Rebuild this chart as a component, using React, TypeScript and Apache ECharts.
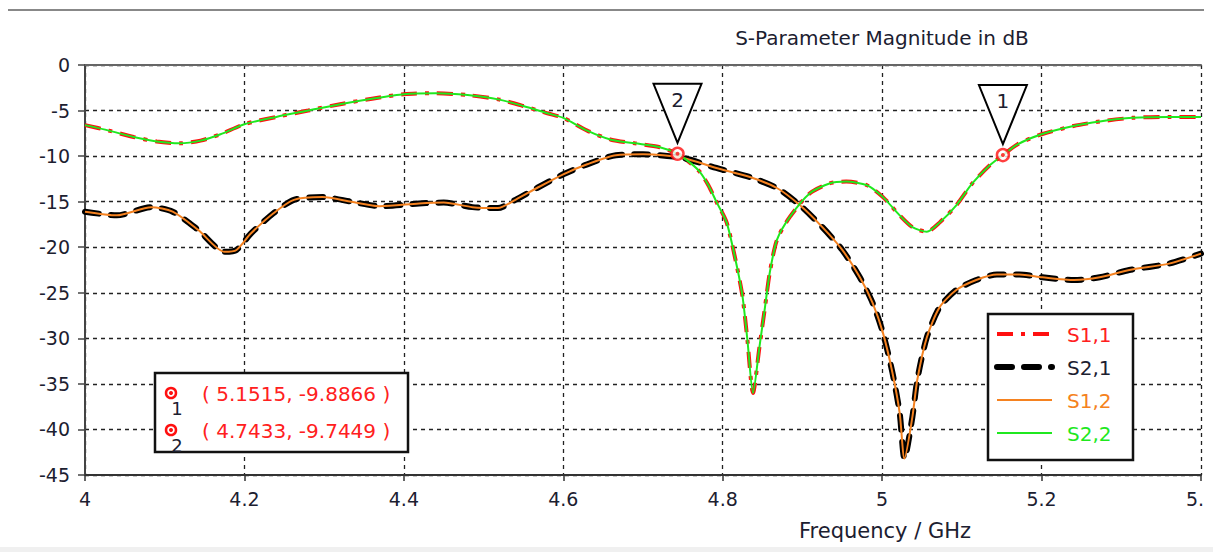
import React, { useEffect, useRef } from "react";
import * as echarts from "echarts";

// Reflection curves (S1,1 and S2,2 coincide)
const freqR = [4.000, 4.030, 4.061, 4.090, 4.119, 4.145, 4.170, 4.200, 4.240, 4.280, 4.320, 4.360, 4.400, 4.440, 4.480, 4.520, 4.550, 4.580, 4.600, 4.630, 4.660, 4.690, 4.720, 4.7433, 4.760, 4.771, 4.782, 4.792, 4.805, 4.818, 4.825, 4.831, 4.838, 4.846, 4.853, 4.859, 4.868, 4.884, 4.909, 4.934, 4.955, 4.981, 5.001, 5.022, 5.038, 5.056, 5.072, 5.093, 5.113, 5.135, 5.1515, 5.170, 5.200, 5.240, 5.273, 5.314, 5.360, 5.400];
const s11 = [-6.6, -7.2, -7.9, -8.4, -8.6, -8.3, -7.6, -6.5, -5.7, -5.0, -4.3, -3.7, -3.2, -3.1, -3.3, -3.8, -4.5, -5.3, -5.8, -7.2, -8.2, -8.6, -9.0, -9.74, -10.8, -11.7, -13.2, -15.0, -17.3, -22.2, -25.5, -30.2, -36.0, -31.0, -26.6, -22.8, -19.2, -16.7, -14.1, -13.0, -12.8, -13.2, -14.5, -16.5, -17.8, -18.3, -17.3, -15.4, -13.0, -11.0, -9.89, -8.7, -7.6, -6.7, -6.2, -5.8, -5.7, -5.7];
const s22 = [-6.6, -7.2, -7.9, -8.4, -8.6, -8.3, -7.6, -6.5, -5.7, -5.0, -4.3, -3.7, -3.2, -3.1, -3.3, -3.8, -4.5, -5.3, -5.8, -7.2, -8.2, -8.6, -9.0, -9.74, -10.8, -11.7, -13.2, -15.0, -17.3, -22.2, -25.5, -30.2, -36.0, -31.0, -26.6, -22.8, -19.2, -16.7, -14.1, -13.0, -12.8, -13.2, -14.5, -16.5, -17.8, -18.3, -17.3, -15.4, -13.0, -11.0, -9.89, -8.7, -7.6, -6.7, -6.2, -5.8, -5.7, -5.7];

// Transmission curves (S2,1 and S1,2 coincide)
const freqT = [4.000, 4.040, 4.083, 4.110, 4.142, 4.175, 4.190, 4.208, 4.236, 4.262, 4.298, 4.334, 4.370, 4.419, 4.450, 4.486, 4.518, 4.540, 4.567, 4.600, 4.630, 4.666, 4.700, 4.750, 4.792, 4.834, 4.868, 4.897, 4.925, 4.950, 4.972, 4.988, 5.001, 5.013, 5.022, 5.028, 5.038, 5.044, 5.056, 5.072, 5.093, 5.118, 5.144, 5.172, 5.201, 5.241, 5.273, 5.310, 5.360, 5.400];
const s21 = [-16.1, -16.5, -15.6, -16.1, -18.1, -20.5, -20.3, -18.5, -16.3, -14.8, -14.5, -15.0, -15.5, -15.2, -15.1, -15.6, -15.7, -14.8, -13.5, -12.0, -10.9, -9.9, -9.8, -10.2, -11.3, -12.3, -13.5, -15.4, -17.8, -20.3, -23.3, -26.1, -29.4, -33.8, -38.2, -43.2, -38.6, -34.6, -29.9, -26.6, -24.7, -23.6, -23.0, -23.0, -23.3, -23.6, -23.3, -22.5, -21.8, -20.7];
const s12 = [-16.1, -16.5, -15.6, -16.1, -18.1, -20.5, -20.3, -18.5, -16.3, -14.8, -14.5, -15.0, -15.5, -15.2, -15.1, -15.6, -15.7, -14.8, -13.5, -12.0, -10.9, -9.9, -9.8, -10.2, -11.3, -12.3, -13.5, -15.4, -17.8, -20.3, -23.3, -26.1, -29.4, -33.8, -38.2, -43.2, -38.6, -34.6, -29.9, -26.6, -24.7, -23.6, -23.0, -23.0, -23.3, -23.6, -23.3, -22.5, -21.8, -20.7];

// Markers
const markerNames = ["1", "2"];
const markerFreq = [5.1515, 4.7433];
const markerVal = [-9.8866, -9.7449];

const seriesNames = ["S1,1", "S2,1", "S1,2", "S2,2"];

const FONT = '"DejaVu Sans", Verdana, sans-serif';
const TXT = "#1c2030";

const zip = (xs: number[], ys: number[]) => xs.map((x, i) => [x, ys[i]]);

export default function App() {
  const ref = useRef<HTMLDivElement>(null);

  useEffect(() => {
    if (!ref.current) return;
    document.body.style.margin = "0";
    const chart = echarts.init(ref.current, undefined, { renderer: "svg" });

    const grid = "#222";
    const option: any = {
      animation: false,
      backgroundColor: "#fff",
      grid: { left: 85, top: 65, right: 3, bottom: 77, containLabel: false, outerBoundsMode: "none" },
      xAxis: [
        {
          type: "value",
          min: 4,
          max: 5.4,
          interval: 0.2,
          position: "bottom",
          axisLine: { show: true, onZero: false, lineStyle: { color: "#333", width: 2 } },
          axisTick: { show: true, length: 6, lineStyle: { color: "#333", width: 1.5 } },
          axisLabel: {
            fontFamily: FONT,
            fontSize: 19,
            color: TXT,
            margin: 14,
            formatter: (v: number) => String(parseFloat(v.toFixed(2))),
          },
          splitLine: { show: true, lineStyle: { color: grid, width: 1.3, type: [4, 4] } },
        },
        {
          type: "value",
          min: 4,
          max: 5.4,
          position: "top",
          axisLine: { show: true, onZero: false, lineStyle: { color: "#666", width: 2 } },
          axisTick: { show: false },
          axisLabel: { show: false },
          splitLine: { show: false },
        },
      ],
      yAxis: {
        type: "value",
        min: -45,
        max: 0,
        interval: 5,
        axisLine: { show: true, onZero: false, lineStyle: { color: "#444", width: 2 } },
        axisTick: { show: true, length: 7, lineStyle: { color: "#444", width: 1.5 } },
        axisLabel: { fontFamily: FONT, fontSize: 19, color: TXT, margin: 15 },
        splitLine: { show: true, lineStyle: { color: grid, width: 1.3, type: [4, 4] } },
      },
      series: [
        {
          name: seriesNames[0],
          type: "line",
          data: zip(freqR, s11),
          showSymbol: false,
          symbol: "none",
          smooth: 0.25,
          lineStyle: { color: "#ff1010", width: 4, type: [16, 8, 4, 8] },
          z: 2,
        },
        {
          name: seriesNames[1],
          type: "line",
          data: zip(freqT, s21),
          showSymbol: false,
          symbol: "none",
          smooth: 0.25,
          lineStyle: { color: "#000", width: 6, type: [14, 12], cap: "round" },
          z: 3,
        },
        {
          name: seriesNames[2],
          type: "line",
          data: zip(freqT, s12),
          showSymbol: false,
          symbol: "none",
          smooth: 0.25,
          lineStyle: { color: "#f58220", width: 2 },
          z: 4,
        },
        {
          name: seriesNames[3],
          type: "line",
          data: zip(freqR, s22),
          showSymbol: false,
          symbol: "none",
          smooth: 0.25,
          lineStyle: { color: "#1fe81f", width: 2 },
          z: 5,
        },
        {
          type: "scatter",
          data: zip(markerFreq, markerVal),
          symbol: "circle",
          symbolSize: 12,
          itemStyle: { color: "#fff", borderColor: "#ff1010", borderWidth: 2.5 },
          z: 10,
        },
        {
          type: "scatter",
          data: zip(markerFreq, markerVal),
          symbol: "circle",
          symbolSize: 4,
          itemStyle: { color: "#ff1010" },
          z: 11,
        },
      ],
    };
    chart.setOption(option);

    const g: any[] = [];
    // top frame line
    g.push({ type: "line", shape: { x1: 8, y1: 10, x2: 1204, y2: 10 }, style: { stroke: "#888", lineWidth: 2 } });
    // title
    g.push({
      type: "text",
      x: 882,
      y: 38,
      style: { text: "S-Parameter Magnitude in dB", font: `20px ${FONT}`, fill: TXT, align: "center", verticalAlign: "middle" },
    });
    g.push({
      type: "text",
      x: 885,
      y: 531,
      style: { text: "Frequency / GHz", font: `21px ${FONT}`, fill: TXT, align: "center", verticalAlign: "middle" },
    });

    // marker callout triangles
    markerFreq.forEach((f, i) => {
      const p = chart.convertToPixel({ xAxisIndex: 0, yAxisIndex: 0 }, [f, markerVal[i]]) as number[];
      const px = p[0];
      const py = p[1];
      g.push({
        type: "polygon",
        shape: { points: [[px - 24, py - 70], [px + 24, py - 70], [px, py - 11]] },
        style: { fill: "#fff", stroke: "#000", lineWidth: 2 },
        z: 20,
      });
      g.push({
        type: "text",
        x: px,
        y: py - 54,
        style: { text: markerNames[i], font: `20px ${FONT}`, fill: TXT, align: "center", verticalAlign: "middle" },
        z: 21,
      });
    });

    // marker value box
    g.push({ type: "rect", shape: { x: 155, y: 373, width: 253, height: 79 }, style: { fill: "#fff", stroke: "#111", lineWidth: 2.5 }, z: 20 });
    markerFreq.forEach((f, i) => {
      const cy = 393 + i * 37;
      g.push({ type: "circle", shape: { cx: 171, cy, r: 5 }, style: { fill: "#fff", stroke: "#ff1010", lineWidth: 2.5 }, z: 21 });
      g.push({ type: "circle", shape: { cx: 171, cy, r: 2 }, style: { fill: "#ff1010" }, z: 22 });
      g.push({
        type: "text",
        x: 177,
        y: cy + 15,
        style: { text: markerNames[i], font: `18px ${FONT}`, fill: TXT, align: "center", verticalAlign: "middle" },
        z: 21,
      });
      g.push({
        type: "text",
        x: 202,
        y: cy + 1,
        style: {
          text: `( ${f.toFixed(4)}, ${markerVal[i].toFixed(4)} )`,
          font: `20px ${FONT}`,
          fill: "#ff2020",
          align: "left",
          verticalAlign: "middle",
        },
        z: 21,
      });
    });

    // legend box
    g.push({ type: "rect", shape: { x: 988, y: 314, width: 145, height: 146 }, style: { fill: "#fff", stroke: "#111", lineWidth: 2.5 }, z: 20 });
    const legStyles = [
      { stroke: "#ff1010", lineWidth: 4, lineDash: [16, 8, 4, 8], lineCap: "butt" },
      { stroke: "#000", lineWidth: 6, lineDash: [15, 12], lineCap: "round" },
      { stroke: "#f58220", lineWidth: 2 },
      { stroke: "#1fe81f", lineWidth: 2 },
    ];
    const legColors = ["#ff2020", TXT, "#f58220", "#1fe81f"];
    seriesNames.forEach((n, i) => {
      const y = 334 + i * 33;
      g.push({ type: "line", shape: { x1: 997, y1: y, x2: 1052, y2: y }, style: legStyles[i], z: 21 });
      g.push({
        type: "text",
        x: 1067,
        y: y + 1,
        style: { text: n, font: `20px ${FONT}`, fill: legColors[i], align: "left", verticalAlign: "middle" },
        z: 21,
      });
    });

    chart.setOption({ graphic: g });

    return () => chart.dispose();
  }, []);

  return (
    <div style={{ position: "fixed", left: 0, top: 0, width: 1213, height: 552, background: "#fff" }}>
      <div ref={ref} style={{ position: "absolute", left: 0, top: 0, width: 1204, height: 552 }} />
      <div style={{ position: "absolute", left: 0, top: 547, width: 1213, height: 5, background: "#f0f0f0" }} />
    </div>
  );
}
